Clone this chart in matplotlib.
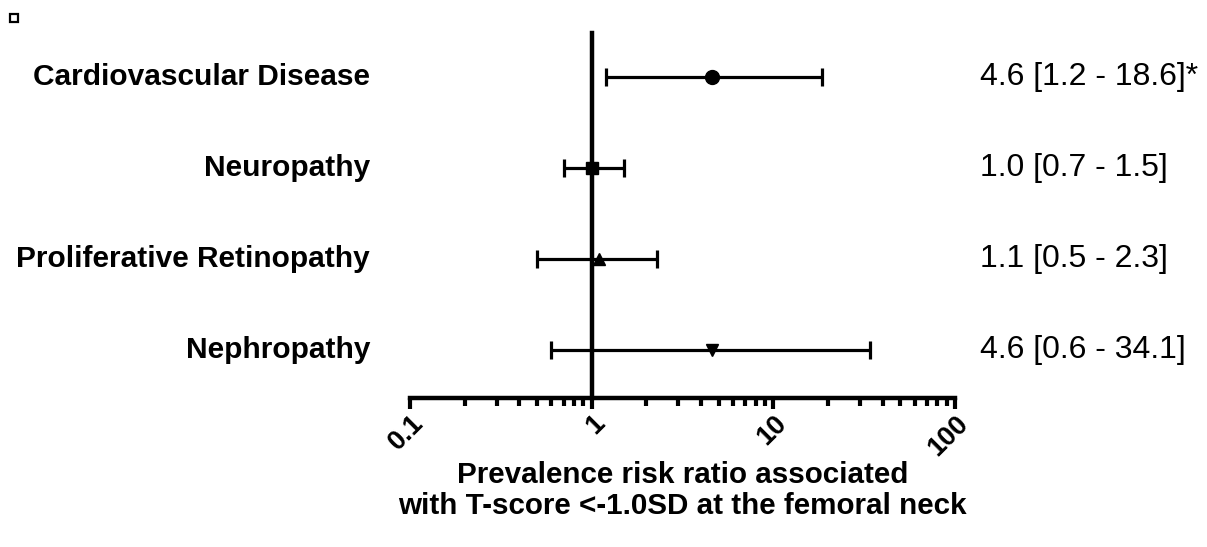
import matplotlib.pyplot as plt
import matplotlib.transforms as mtransforms
from matplotlib.lines import Line2D
from matplotlib.ticker import LogLocator, FixedLocator, NullFormatter

plt.rcParams['font.family'] = ['Liberation Sans', 'DejaVu Sans']

# data
outcomes = ['Cardiovascular Disease', 'Neuropathy', 'Proliferative Retinopathy', 'Nephropathy']
ratio = [4.6, 1.0, 1.1, 4.6]
ci_low = [1.2, 0.7, 0.5, 0.6]
ci_high = [18.6, 1.5, 2.3, 34.1]
summary = ['4.6 [1.2 - 18.6]*', '1.0 [0.7 - 1.5]', '1.1 [0.5 - 2.3]', '4.6 [0.6 - 34.1]']
markers = ['o', 's', '^', 'v']
xticks = [0.1, 1, 10, 100]
xtick_labels = ['0.1', '1', '10', '100']

fig = plt.figure(figsize=(12.07, 5.47), dpi=100)
ax = fig.add_axes([0.3397, 0.2724, 0.4515, 0.6673])

ypos = [4, 3, 2, 1]
for i in range(len(outcomes)):
    r = ratio[i]
    ax.errorbar(r, ypos[i], xerr=[[r - ci_low[i]], [ci_high[i] - r]],
                fmt=markers[i], color='black', ms=10 if markers[i] == 'o' else 9,
                elinewidth=2.3, capsize=6.5, capthick=2.3, zorder=3)

ax.set_xscale('log')
ax.set_xlim(0.1, 100)
ax.set_ylim(0.47, 4.48)

# y axis crosses at 1 like in the reference
ax.spines['left'].set_position(('data', 1))
ax.spines['left'].set_linewidth(3.2)
ax.spines['bottom'].set_linewidth(3.2)
ax.spines['top'].set_visible(False)
ax.spines['right'].set_visible(False)
ax.set_yticks([])

ax.xaxis.set_major_locator(FixedLocator(xticks))
ax.set_xticklabels(xtick_labels, rotation=45, ha='right', rotation_mode='anchor',
                   fontsize=19.5, fontweight='bold')
ax.xaxis.set_minor_locator(LogLocator(base=10, subs=range(2, 10)))
ax.xaxis.set_minor_formatter(NullFormatter())
ax.tick_params(axis='x', which='major', length=8, width=3, pad=1)
ax.tick_params(axis='x', which='minor', length=5.5, width=3)

trans = mtransforms.blended_transform_factory(ax.transAxes, ax.transData)
for i in range(len(outcomes)):
    ax.text(-0.073, ypos[i], outcomes[i], transform=trans, ha='right', va='center',
            fontsize=21.5, fontweight='bold')
    ax.text(1.046, ypos[i], summary[i], transform=trans, ha='left', va='center',
            fontsize=23)

ax.set_xlabel('Prevalence risk ratio associated\nwith T-score <-1.0SD at the femoral neck',
              fontsize=21.3, fontweight='bold', labelpad=0, linespacing=1.15)

# small hollow square in the top-left corner
fig.add_artist(Line2D([14 / 1207], [1 - 17.5 / 547], transform=fig.transFigure,
                      marker='s', ms=5.5, mfc='white', mec='black', mew=1.6, ls='none'))

fig.savefig('out.png', dpi=100)
